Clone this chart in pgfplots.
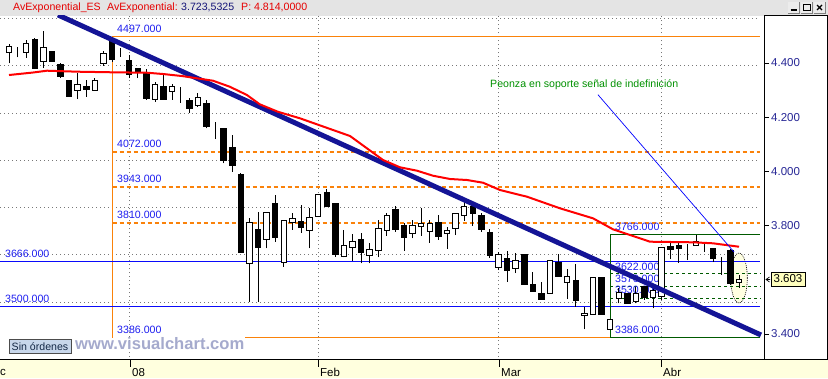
\documentclass[border=0pt]{standalone}
\usepackage{pgfplots}
\pgfplotsset{compat=1.18}
\usepackage{pgfplotstable}
\usepackage{fontspec}
\setmainfont{Liberation Sans}
\definecolor{orng}{RGB}{250,130,10}
\definecolor{lvlblue}{RGB}{10,10,250}
\definecolor{lbltext}{RGB}{30,30,240}
\definecolor{navyl}{RGB}{20,20,150}
\definecolor{dgreen}{RGB}{0,90,0}
\definecolor{tgreen}{RGB}{0,145,0}
\definecolor{titlegray}{RGB}{228,228,228}
\definecolor{band}{RGB}{255,255,222}
\definecolor{ticklbl}{RGB}{40,40,150}
\definecolor{ellfill}{RGB}{255,255,225}
\definecolor{boxy}{RGB}{255,255,190}
\definecolor{btnblue}{RGB}{200,215,235}
\definecolor{wmark}{RGB}{165,170,205}
\definecolor{gridg}{RGB}{120,120,120}
\definecolor{titlered}{RGB}{230,0,0}
\definecolor{titleblue}{RGB}{20,20,120}
\newcommand\sm{\fontsize{10.6}{12}\selectfont}

\pgfplotstableread{
i o h l c
0 4440 4469 4399 4460
1 4445 4460 4421 4445
2 4440 4485 4420 4473
3 4485 4491 4377 4381
4 4407 4518 4381 4458
5 4444 4444 4405 4405
6 4393 4399 4344 4352
7 4337 4337 4276 4276
8 4300 4362 4267 4321
9 4315 4337 4276 4303
10 4300 4344 4300 4334
11 4399 4444 4390 4436
12 4481 4497 4405 4414
13 4436 4457 4423 4436
14 4411 4430 4344 4356
15 4381 4381 4344 4364
16 4364 4377 4264 4270
17 4266 4331 4257 4319
18 4315 4356 4264 4267
19 4294 4321 4264 4315
20 4294 4313 4254 4294
21 4260 4270 4217 4233
22 4245 4290 4237 4274
23 4249 4264 4159 4165
24 4128 4183 4119 4128
25 4157 4157 4030 4042
26 4089 4134 3999 4021
27 3987 3995 3699 3702
28 3661 3827 3519 3812
29 3784 3851 3519 3720
30 3750 3850 3716 3849
31 3880 3913 3741 3755
32 3665 3818 3648 3818
33 3811 3848 3784 3827
34 3817 3876 3774 3792
35 3781 3864 3716 3831
36 3833 3913 3833 3913
37 3923 3934 3870 3870
38 3880 3880 3685 3692
39 3685 3784 3683 3727
40 3720 3769 3671 3743
41 3747 3774 3661 3700
42 3689 3737 3661 3713
43 3710 3821 3683 3790
44 3781 3848 3763 3836
45 3858 3872 3778 3786
46 3799 3811 3707 3755
47 3772 3821 3753 3799
48 3796 3864 3762 3806
49 3778 3821 3737 3806
50 3812 3839 3747 3759
51 3772 3794 3714 3781
52 3790 3845 3765 3845
53 3837 3895 3818 3872
54 3872 3882 3799 3843
55 3839 3848 3778 3784
56 3774 3788 3682 3689
57 3645 3704 3636 3694
58 3679 3706 3593 3634
59 3643 3698 3625 3671
60 3695 3695 3583 3583
61 3583 3628 3556 3556
62 3548 3593 3526 3526
63 3550 3673 3550 3673
64 3665 3695 3612 3612
65 3591 3639 3529 3612
66 3599 3657 3501 3523
67 3468 3499 3417 3476
68 3473 3609 3473 3609
69 3609 3609 3473 3473
70 3417 3454 3417 3454
71 3532 3571 3513 3552
72 3550 3550 3513 3513
73 3519 3575 3513 3548
74 3575 3575 3526 3534
75 3534 3577 3495 3559
76 3540 3722 3526 3719
77 3722 3735 3676 3713
78 3725 3741 3663 3716
79 3713 3732 3673 3713
80 3725 3765 3725 3741
81 3731 3731 3702 3731
82 3716 3716 3665 3677
83 3676 3685 3618 3676
84 3707 3714 3581 3587
85 3591 3618 3571 3603
}\candles

\pgfplotstableread{
i v
0 4355.7
2.79 4364.9
4.42 4371.6
8.03 4367.9
12.11 4365.7
16.07 4364.2
17.93 4359.4
20.14 4352
21.89 4343.5
23.75 4334.7
25.7 4312.6
27.7 4282
29.2 4247.6
31.32 4220
33.88 4195.9
37.73 4152.8
39.71 4130.6
43.55 4042.1
45.53 4015.1
47.51 4002.6
49.37 3984.1
51.35 3972
53.33 3968.3
55.19 3958.3
57.17 3931.4
60.32 3906.6
64.16 3863.8
68.0 3826.9
70.33 3786.3
74.64 3740.6
79.65 3738.4
81.97 3734.7
85.0 3722.1
}\ema

\pgfplotsset{base/.style={at={(0pt,19pt)}, anchor=south west, width=764pt, height=343pt,
  scale only axis, xmin=-1.048, xmax=87.91, ymin=3307.8, ymax=4573.5, clip=true}}

\begin{document}
\begin{tikzpicture}
\path[use as bounding box] (0pt,0pt) rectangle (828pt,378pt);
\fill[white] (0pt,0pt) rectangle (828pt,378pt);
\fill[band] (0pt,0pt) rectangle (828pt,19pt);
\fill[titlegray] (0pt,362pt) rectangle (828pt,378pt);

% ---------- axis 1 : grid, levels, wicks, labels ----------
\begin{axis}[base,
  axis line style={draw=none},
  tick align=outside,
  xtick=\empty,
  ytick={3400,3800,4000,4200,4400},
  yticklabels={,,,,},
  ytick pos=right, yticklabel pos=right,
  major tick length=5pt,
  ytick style={draw=black, line width=0.8pt},
]
% dotted grid
\pgfplotsinvokeforeach{4563.1,4389,4214.8,4040.6,3866.5,3692.3,3518.1}{
  \addplot[gridg, line width=1pt, dash pattern=on 1pt off 3pt] coordinates {(-1.0,#1) (87.45,#1)};}
\pgfplotsinvokeforeach{14,36,57,76}{
  \addplot[gridg, line width=1pt, dash pattern=on 1pt off 3pt] coordinates {(#1,3300) (#1,4580)};}
% ellipse
\draw[black, line width=0.6pt, dash pattern=on 1pt off 1pt, fill=ellfill] (axis cs:85,3606.7) ellipse [x radius=8.3pt, y radius=25pt];
% orange levels
\addplot[orng, line width=1.3pt] coordinates {(12.07,3386) (12.07,4497) (87.45,4497)};
\pgfplotsinvokeforeach{4072,3943,3810}{
  \addplot[orng, line width=1.3pt, dash pattern=on 4pt off 3pt] coordinates {(12.07,#1) (87.45,#1)};}
\addplot[orng, line width=1.3pt] coordinates {(27.48,3386) (69.98,3386)};
% blue levels
\addplot[lvlblue, line width=1pt] coordinates {(-1.1,3666) (87.45,3666)};
\addplot[lvlblue, line width=1pt] coordinates {(-1.1,3500) (87.45,3500)};
% green box
\addplot[dgreen, line width=1pt] coordinates {(87.45,3766) (69.98,3766) (69.98,3386) (87.45,3386)};
\pgfplotsinvokeforeach{3622,3576,3530}{
  \addplot[dgreen, line width=1pt, dash pattern=on 3pt off 3pt] coordinates {(69.98,#1) (87.45,#1)};}
% labels
\begin{scope}[every node/.style={anchor=west, inner sep=0pt, text=lbltext, font=\sm}]
\node at (axis cs:12.58,4527.3) {4497.000};
\node at (axis cs:12.58,4101.1) {4072.000};
\node at (axis cs:12.58,3973.8) {3943.000};
\node at (axis cs:12.58,3841.0) {3810.000};
\node at (axis cs:-0.47,3695.2) {3666.000};
\node at (axis cs:-0.47,3529.2) {3500.000};
\node at (axis cs:12.58,3414.8) {3386.000};
\node at (axis cs:70.56,3796.0) {3766.000};
\node at (axis cs:70.56,3648.4) {3622.000};
\node at (axis cs:70.56,3603.0) {3576.000};
\node at (axis cs:70.56,3562.4) {3530.000};
\node at (axis cs:70.56,3414.8) {3386.000};
\end{scope}
% wicks
\addplot[draw=none, error bars/.cd, y dir=plus, y explicit, error mark=none,
  error bar style={draw=black, solid, line width=1pt}]
  table[x=i, y=l, y error expr=\thisrow{h}-\thisrow{l}] {\candles};
\end{axis}

% ---------- axis 2 : candle bodies ----------
\begin{axis}[base, hide axis, ybar stacked, bar width=5.5pt]
\addplot[draw=none, fill=none] table[x=i, y expr={min(\thisrow{o},\thisrow{c})}] {\candles};
\addplot[fill=black, draw=black, line width=1pt] table[x=i, y expr={max(\thisrow{o}-\thisrow{c},0)}] {\candles};
\addplot[fill=white, draw=black, line width=1pt] table[x=i, y expr={max(\thisrow{c}-\thisrow{o},0)}] {\candles};
\end{axis}

% ---------- axis 3 : lines and annotation ----------
\begin{axis}[base, hide axis]
\addplot[navyl, line width=5pt, line cap=butt] coordinates {(5.71,4577.2) (87.56,3396.4)};
\addplot[red, line width=2pt] table[x=i, y=v] {\ema};
\addplot[blue, line width=0.7pt] coordinates {(68.58,4283) (84.42,3702.6)};
\node[anchor=west, inner sep=0pt, text=tgreen, font=\sm] at (axis cs:56.01,4318.9) {Peonza en soporte señal de indefinición};
\end{axis}

% ---------- frame and decorations ----------
\draw[black, line width=1pt] (0pt,19pt) -- (828pt,19pt);
\draw[black, line width=1pt] (764pt,19pt) -- (764pt,362.5pt) -- (827.5pt,362.5pt) -- (827.5pt,19pt);
% y tick labels
\foreach \yy/\lab in {44.0/3.400,152.4/3.800,206.6/4.000,260.8/4.200,315.0/4.400}{
  \node[anchor=west, inner sep=0pt, text=ticklbl, font=\fontsize{11.5}{13}\selectfont] at (771pt,\yy pt) {\lab};}
% x ticks and labels
\foreach \xx/\lab in {130/08,318/Feb,499/Mar,661/Abr}{
  \draw[black, line width=1pt] (\xx pt,19pt) -- (\xx pt,11pt);
  \node[anchor=west, inner sep=0pt, font=\fontsize{11.5}{13}\selectfont] at ([xshift=2pt]\xx pt,5.5pt) {\lab};}
\node[anchor=west, inner sep=0pt, font=\fontsize{11.5}{13}\selectfont] at (0pt,5.5pt) {c};
% title
\node[anchor=west, inner sep=0pt, text=titlered, font=\sm] at (13pt,370.5pt) {AvExponential\_ES};
\node[anchor=west, inner sep=0pt, text=titlered, font=\sm] at (107pt,370.5pt) {AvExponential:};
\node[anchor=west, inner sep=0pt, text=titleblue, font=\sm] at (181pt,370.5pt) {3.723,5325};
\node[anchor=west, inner sep=0pt, text=titlered, font=\sm] at (241pt,370.5pt) {P: 4.814,0000};
% window buttons
\foreach \bx in {788,801,814}{
  \fill[white!85!gray] (\bx pt,365pt) rectangle ++(11pt,11pt);
  \draw[gray, line width=0.6pt] (\bx pt,365pt) -- ++(11pt,0pt) -- ++(0pt,11pt);}
\draw[black, line width=1.2pt] (790.5pt,368pt) -- (796.5pt,368pt);
\draw[black, line width=0.9pt] (803pt,367.5pt) rectangle (810pt,374pt);
\draw[black, line width=1.2pt] (817pt,368pt) -- (822pt,373pt) (817pt,373pt) -- (822pt,368pt);
% last price box
\draw[black, line width=0.8pt, fill=boxy] (771pt,92pt) rectangle (805pt,106pt);
\node[inner sep=0pt, font=\fontsize{11.5}{13}\selectfont] at (788pt,99pt) {3.603};
\draw[black, line width=0.7pt] (769.5pt,101pt) -- (766pt,98.5pt) -- (769.5pt,96pt) (766pt,98.5pt) -- (770pt,98.5pt);
% Sin ordenes button and watermark
\draw[black!70, line width=0.8pt, fill=btnblue] (9pt,24.5pt) rectangle (71pt,39pt);
\node[inner sep=0pt, text={rgb,255:red,20;green,40;blue,70}, font=\sm] at (40pt,31.5pt) {Sin órdenes};
\node[anchor=west, inner sep=0pt, text=wmark, font=\fontsize{16.6}{18}\selectfont\bfseries] at (75pt,34pt) {www.visualchart.com};
\end{tikzpicture}
\end{document}
